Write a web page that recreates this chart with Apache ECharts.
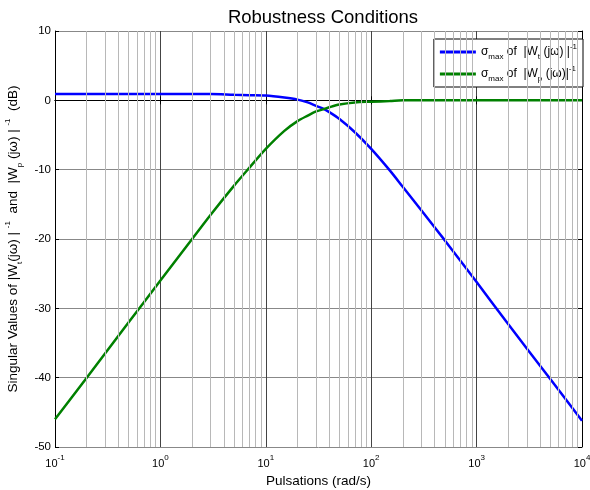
<!DOCTYPE html>
<html><head><meta charset="utf-8">
<script src="https://cdn.jsdelivr.net/npm/echarts@6/dist/echarts.min.js"></script>
<style>html,body{margin:0;padding:0;background:#fff}#c{width:590px;height:490px}</style>
</head><body><div id="c"></div>
<script>
const freq = [0.1, 0.2, 0.5, 1, 2, 3, 5, 7, 10, 15, 20, 25, 30, 35, 40, 50, 70, 100, 150, 200, 300, 500, 1000, 2000, 5000, 10000];
const wtInv = [0.9, 0.9, 0.9, 0.9, 0.9, 0.9, 0.8, 0.75, 0.7, 0.4, 0.1, -0.3, -0.8, -1.2, -1.7, -2.7, -4.6, -7.0, -10.1, -12.5, -15.9, -20.2, -26.2, -32.3, -40.2, -46.2];
const wpInv = [-46, -40, -32, -26, -20, -16.5, -12.3, -9.7, -7, -4.4, -3, -2.2, -1.6, -1.3, -1, -0.6, -0.3, -0.2, -0.1, 0, 0, 0, 0, 0, 0, 0];
const minorFreqs = [];
[0.1, 1, 10, 100, 1000].forEach(d => { for (let k = 2; k <= 9; k++) minorFreqs.push(+(d * k).toPrecision(3)); });

const font = 'Liberation Sans, Arial, sans-serif';
const chart = echarts.init(document.getElementById('c'));
const sup = {fontSize: 8, verticalAlign: 'top', fontFamily: font, color: '#000'};
const sub = {fontSize: 8, verticalAlign: 'bottom', fontFamily: font, color: '#000'};
const tickBase = {fontSize: 11, fontFamily: font, color: '#000', lineHeight: 20};
const legBase = {fontSize: 12, fontFamily: font, color: '#000', lineHeight: 18};
const pair = (f, s) => f.map((x, i) => [x, s[i]]);

chart.setOption({
  animation: false,
  title: {text: 'Robustness Conditions', left: 318, top: 3, textAlign: 'center',
    textStyle: {fontFamily: font, fontSize: 18.5, fontWeight: 'normal', color: '#000'}},
  grid: {left: 55, right: 8, top: 31, bottom: 43, outerBoundsMode: 'none', containLabel: false},
  legend: {
    right: 7, top: 39, orient: 'vertical', itemGap: 4, padding: [4, 6, 4, 6],
    backgroundColor: '#fff', borderColor: '#000', borderWidth: 1,
    icon: 'rect', itemWidth: 36, itemHeight: 3,
    formatter: n => n === 'Wt' ? '{a|σ}{sub|max}{a| of  |W}{sub|t}{a| (jω) |}{sup|-1}'
                               : '{a|σ}{sub|max}{a| of  |W}{sub|p}{a| (jω)|}{sup|-1}',
    textStyle: {rich: {a: legBase, sub: sub, sup: sup}}
  },
  xAxis: [{
    type: 'log', min: 0.1, max: 10000, logBase: 10,
    name: 'Pulsations (rad/s)', nameLocation: 'middle', nameGap: 25,
    nameTextStyle: {fontFamily: font, fontSize: 13.5, color: '#000'},
    axisLine: {lineStyle: {color: '#000', width: 1}},
    axisTick: {inside: true, length: 4, lineStyle: {color: '#000'}},
    axisLabel: {margin: 7, formatter: v => '{b|10}{s|' + Math.round(Math.log10(v)) + '}',
      rich: {b: tickBase, s: sup}},
    splitLine: {show: true, lineStyle: {color: '#444', width: 1}}
  }, {
    type: 'log', min: 0.1, max: 10000, position: 'top',
    axisLine: {lineStyle: {color: '#000'}},
    axisTick: {inside: true, length: 4, lineStyle: {color: '#000'}},
    axisLabel: {show: false}, splitLine: {show: false}
  }],
  yAxis: [{
    type: 'value', min: -50, max: 10, interval: 10,
    name: '{a|Singular Values of |W}{sub|t}{a|(jω) | }{sup|-1}{a|  and  |W}{sub|p}{a| (jω) | }{sup|-1}{a|  (dB)}',
    nameLocation: 'middle', nameGap: 29,
    nameTextStyle: {rich: {a: {fontSize: 13.5, fontFamily: font, color: '#000', lineHeight: 20}, sub: sub, sup: sup}},
    axisLine: {lineStyle: {color: '#000'}},
    axisTick: {inside: true, length: 4, lineStyle: {color: '#000'}},
    axisLabel: {margin: 4, fontFamily: font, fontSize: 11.5, color: '#000'},
    splitLine: {show: true, lineStyle: {color: '#888', width: 1}}
  }, {
    type: 'value', min: -50, max: 10, interval: 10, position: 'right',
    axisLine: {show: true, lineStyle: {color: '#000'}},
    axisTick: {show: true, inside: true, length: 4, lineStyle: {color: '#000'}},
    axisLabel: {show: false}, splitLine: {show: false}
  }],
  series: [{
    name: 'minor', type: 'line', data: [], silent: true,
    markLine: {silent: true, symbol: ['none', 'none'], label: {show: false},
      lineStyle: {color: '#b8b8b8', width: 1, type: 'solid'},
      data: minorFreqs.map(f => ({xAxis: f}))}
  }, {
    name: 'Wt', type: 'line', data: pair(freq, wtInv), showSymbol: false, smooth: 0.3,
    lineStyle: {color: '#0000ff', width: 2.5}, itemStyle: {color: '#0000ff'}
  }, {
    name: 'Wp', type: 'line', data: pair(freq, wpInv), showSymbol: false, smooth: 0.3,
    lineStyle: {color: '#008000', width: 2.5}, itemStyle: {color: '#008000'}
  }]
});
chart.setOption({legend: {data: ['Wt', 'Wp']}});
</script></body></html>
